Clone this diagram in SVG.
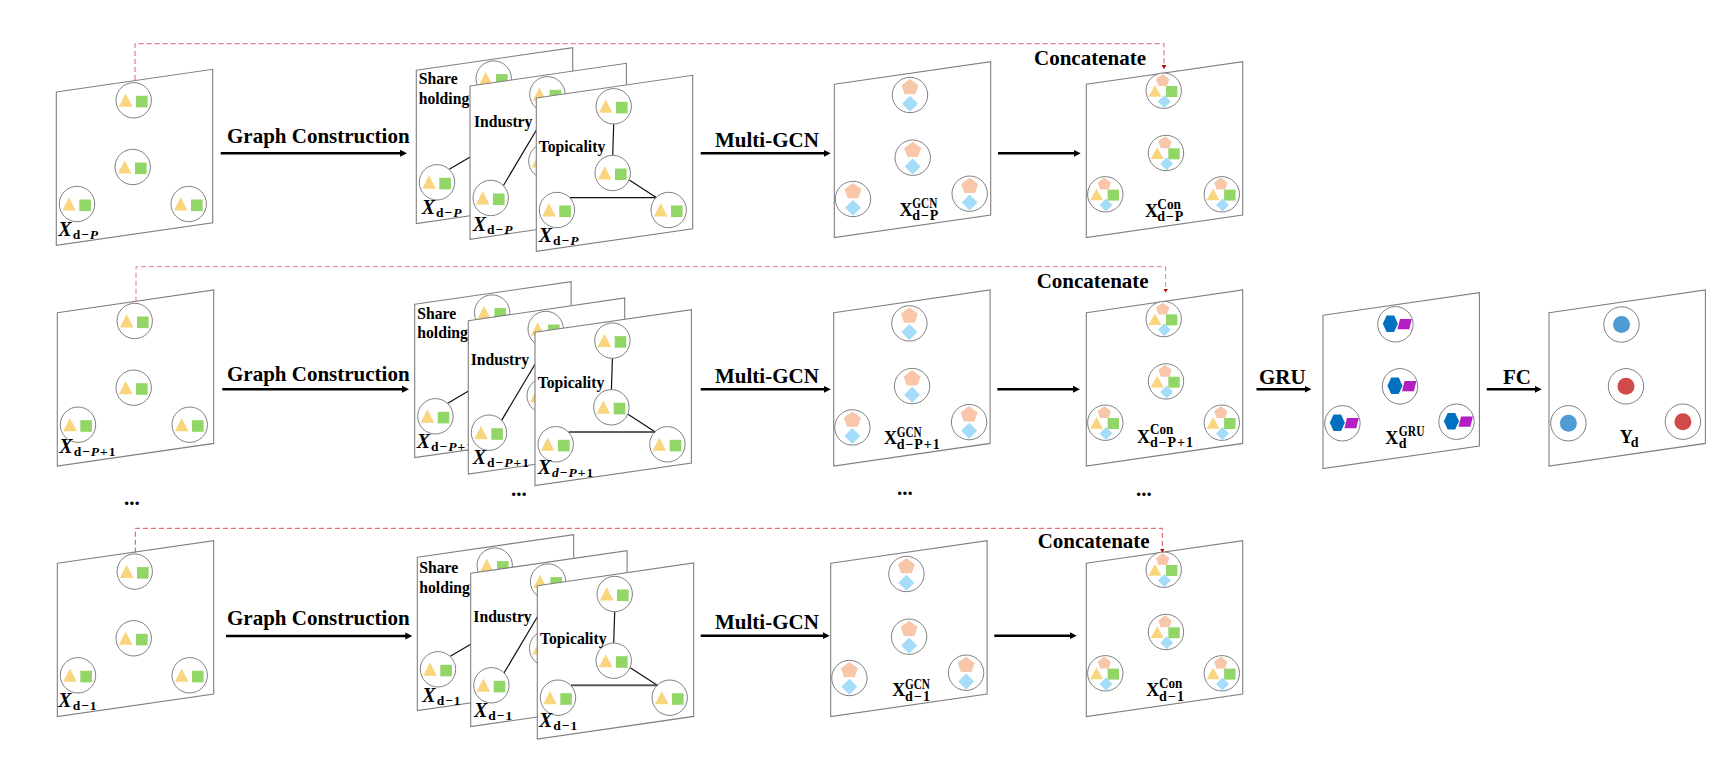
<svg xmlns="http://www.w3.org/2000/svg" width="1735" height="770" viewBox="0 0 1735 770">
<style>
text{font-family:"Liberation Serif",serif;font-weight:bold;fill:#000}
.lb{font-size:21px}
.st{font-size:15.7px}
.x{font-size:20px;font-style:italic}
.s{font-size:13.5px;font-style:normal;letter-spacing:1px}
.i{font-style:italic}
.X{font-size:18px}
.u{font-size:14px}
.dots{font-size:21px}
.pn{fill:#fff;stroke:#7f7f7f;stroke-width:1.1}
.c{fill:#fff;stroke:#7f7f7f;stroke-width:1}
.tri{fill:#f9d57e}.sq{fill:#93d668}.pe{fill:#f8c6a9}.di{fill:#a5dcf9}.he{fill:#0070c0}.pa{fill:#b41fc4}
.bl{fill:#4e9bd5}.re{fill:#d04a4a}
.e{stroke:#111;stroke-width:1.2;fill:none}
.e2{stroke:#555;stroke-width:1.6;fill:none}
.ar{stroke:#000;stroke-width:2.6;fill:none;marker-end:url(#ah)}
.da{stroke-width:1;stroke-dasharray:5 3;fill:none;marker-end:url(#dh)}
.d1{stroke:#d4686c}.d2{stroke:#e27f84}.d3{stroke:#e04a4f}
</style>
<defs>
<marker id="ah" markerUnits="userSpaceOnUse" markerWidth="8" markerHeight="8" refX="1" refY="4" orient="auto"><path d="M0,0.5L7,4L0,7.5z" fill="#000"/></marker>
<marker id="dh" markerUnits="userSpaceOnUse" markerWidth="5" markerHeight="5" refX="0" refY="2.5" orient="auto"><path d="M0,0L4,2.5L0,5z" fill="#c00000"/></marker>
<polygon id="frame" class="pn" points="0,0 156.4,-22.7 156.4,130.7 0,153.3"/>
<g id="ab"><circle class="c" r="17.7"/><polygon class="tri" points="-8,-6.8 -14.8,6.5 -1.2,6.5"/><rect class="sq" x="2.3" y="-4.5" width="11.6" height="11.6"/></g>
<g id="gc"><circle class="c" r="17.7"/><polygon class="pe" points="0,-16 8.5,-9.7 5.3,-0.7 -5.3,-0.7 -8.5,-9.7"/><polygon class="di" points="0,0.7 8,8.7 0,16.7 -8,8.7"/></g>
<g id="cn"><circle class="c" r="17.7"/><polygon class="pe" points="-1,-16.7 5.7,-11.5 3.2,-4.7 -5.2,-4.7 -7.7,-11.5"/><polygon class="tri" points="-8.7,-5.7 -15.3,6 -2.3,6"/><rect class="sq" x="2.3" y="-4.7" width="11.4" height="11"/><polygon class="di" points="0.7,4.2 7.2,10.7 0.7,17.2 -5.8,10.7"/></g>
<g id="gr"><circle class="c" r="17.7"/><polygon class="he" points="-12.6,-0.5 -8.8,-8.7 -1.3,-8.7 2.5,-0.5 -1.3,7.7 -8.8,7.7"/><polygon class="pa" points="4.6,-5.3 16.4,-5.3 13.9,5 2,5"/></g>
<g id="yb"><circle class="c" r="17.7"/><circle class="bl" r="8.5"/></g>
<g id="yr"><circle class="c" r="17.7"/><circle class="re" r="8.5"/></g>
<g id="abNodes"><use href="#ab" x="77.4" y="8.3"/><use href="#ab" x="76.4" y="75"/><use href="#ab" x="20.7" y="112"/><use href="#ab" x="132.4" y="112"/></g>
<g id="abPanel"><use href="#frame"/><use href="#abNodes"/></g>
<g id="gcPanel"><use href="#frame"/><use href="#gc" x="75.7" y="10.7"/><use href="#gc" x="78.4" y="73.4"/><use href="#gc" x="18.7" y="114.7"/><use href="#gc" x="135.4" y="109.4"/></g>
<g id="cnPanel"><use href="#frame"/><use href="#cn" x="77.4" y="6.4"/><use href="#cn" x="79.7" y="68.7"/><use href="#cn" x="19" y="110"/><use href="#cn" x="135.5" y="110"/></g>
<g id="sharePanel"><use href="#frame"/><path class="e" d="M33,99L56,85.5"/><use href="#abNodes"/></g>
<g id="indPanel"><use href="#frame"/><path class="e" d="M33.3,99.7L70,38"/><use href="#abNodes"/></g>
<g id="topPanel"><use href="#frame"/><path class="e" d="M77.4,26L76.4,57.7M93,82L120.3,99.7M33.7,99.7L120.3,99.7"/><use href="#abNodes"/></g>
</defs>

<g id="row1-input"><use href="#abPanel" x="56.3" y="92"/>
<text class="x" x="58.3" y="235.7">X<tspan class="s" dx="1" dy="3">d−<tspan class="i">P</tspan></tspan></text></g>
<g id="row1-shareholding"><use href="#sharePanel" x="416.3" y="70.3"/>
<text class="st" x="418.7" y="84.3">Share</text><text class="st" x="418.7" y="104">holding</text>
<text class="x" x="421.7" y="214.3">X<tspan class="s" dx="1" dy="3">d−<tspan class="i">P</tspan></tspan></text></g>
<g id="row1-industry"><use href="#indPanel" x="470" y="86"/>
<text class="st" x="474" y="126.7">Industry</text>
<text class="x" x="472.7" y="231">X<tspan class="s" dx="1" dy="3">d−<tspan class="i">P</tspan></tspan></text></g>
<g id="row1-topicality"><use href="#topPanel" x="536.3" y="98"/>
<text class="st" x="538.7" y="151.7">Topicality</text>
<text class="x" x="538.7" y="241.7">X<tspan class="s" dx="1" dy="3">d−<tspan class="i">P</tspan></tspan></text></g>
<g id="row1-gcn"><use href="#gcPanel" x="834.3" y="84.3"/>
<text class="X" x="899.5" y="216">X</text><text class="u" x="912.3" y="207.7" textLength="25" lengthAdjust="spacingAndGlyphs">GCN</text><text class="u" x="912.3" y="220" textLength="26" lengthAdjust="spacing">d−P</text></g>
<g id="row1-con"><use href="#cnPanel" x="1086.3" y="84.3"/>
<text class="X" x="1145" y="216.7">X</text><text class="u" x="1157.3" y="209" textLength="23.7" lengthAdjust="spacingAndGlyphs">Con</text><text class="u" x="1157.3" y="220.7" textLength="26" lengthAdjust="spacing">d−P</text></g>

<g id="row2-input"><use href="#abPanel" x="57.3" y="312.7"/>
<text class="x" x="59.3" y="453.3">X<tspan class="s" dx="1" dy="3">d−<tspan class="i">P</tspan>+1</tspan></text></g>
<g id="row2-shareholding"><use href="#sharePanel" x="414.7" y="304.3"/>
<text class="st" x="417.3" y="319">Share</text><text class="st" x="417.3" y="338.3">holding</text>
<text class="x" x="416.7" y="448.3">X<tspan class="s" dx="1" dy="3">d−<tspan class="i">P</tspan>+1</tspan></text></g>
<g id="row2-industry"><use href="#indPanel" x="468.3" y="320.7"/>
<text class="st" x="470.7" y="365">Industry</text>
<text class="x" x="472.7" y="464">X<tspan class="s" dx="1" dy="3">d−<tspan class="i">P</tspan>+1</tspan></text></g>
<g id="row2-topicality"><use href="#topPanel" x="535" y="332.3"/><path class="e2" d="M568.7,432H655.3"/>
<text class="st" x="537.7" y="388.3">Topicality</text>
<text class="x" x="537.7" y="474">X<tspan class="s" dx="1" dy="3"><tspan class="i">d</tspan>−<tspan class="i">P</tspan>+1</tspan></text></g>
<g id="row2-gcn"><use href="#gcPanel" x="833.7" y="312.7"/>
<text class="X" x="884" y="444.3">X</text><text class="u" x="896.7" y="436.7" textLength="25" lengthAdjust="spacingAndGlyphs">GCN</text><text class="u" x="896.7" y="449" textLength="43" lengthAdjust="spacing">d−P+1</text></g>
<g id="row2-con"><use href="#cnPanel" x="1086.3" y="312.7"/>
<text class="X" x="1137" y="442.7">X</text><text class="u" x="1150" y="434" textLength="23.3" lengthAdjust="spacingAndGlyphs">Con</text><text class="u" x="1150" y="446.7" textLength="43" lengthAdjust="spacing">d−P+1</text></g>
<g id="gru-panel"><use href="#frame" x="1323" y="315.3"/>
<use href="#gr" x="1395.4" y="324.3"/><use href="#gr" x="1400" y="386.3"/><use href="#gr" x="1342.4" y="423.3"/><use href="#gr" x="1456.5" y="421.7"/>
<text class="X" x="1385.3" y="444">X</text><text class="u" x="1398.8" y="435.7" textLength="25.7" lengthAdjust="spacingAndGlyphs">GRU</text><text class="u" x="1398.8" y="447.7">d</text></g>
<g id="fc-panel"><use href="#frame" x="1549" y="312.7"/>
<use href="#yb" x="1621.5" y="324.5"/><use href="#yr" x="1626" y="386.3"/><use href="#yb" x="1568.4" y="423.3"/><use href="#yr" x="1682.9" y="421.7"/>
<text class="X" x="1619.8" y="443.3">Y</text><text class="u" x="1630.8" y="446.7">d</text></g>

<g id="row3-input"><use href="#abPanel" x="57.3" y="563.3"/>
<text class="x" x="58.3" y="707.3">X<tspan class="s" dx="1" dy="3">d−1</tspan></text></g>
<g id="row3-shareholding"><use href="#sharePanel" x="417.3" y="557.3"/>
<text class="st" x="419.3" y="573.3">Share</text><text class="st" x="419.3" y="592.7">holding</text>
<text class="x" x="422.3" y="701.7">X<tspan class="s" dx="1" dy="3">d−1</tspan></text></g>
<g id="row3-industry"><use href="#indPanel" x="470.7" y="573.3"/>
<text class="st" x="473.3" y="622.3">Industry</text>
<text class="x" x="474" y="716.7">X<tspan class="s" dx="1" dy="3">d−1</tspan></text></g>
<g id="row3-topicality"><use href="#topPanel" x="537.3" y="585.7"/><path class="e2" d="M571,685.4H657.6"/>
<text class="st" x="540" y="644">Topicality</text>
<text class="x" x="539" y="727.3">X<tspan class="s" dx="1" dy="3">d−1</tspan></text></g>
<g id="row3-gcn"><use href="#gcPanel" x="830.7" y="563.3"/>
<text class="X" x="892.2" y="695.7">X</text><text class="u" x="905" y="689" textLength="25" lengthAdjust="spacingAndGlyphs">GCN</text><text class="u" x="905" y="700.7" textLength="25" lengthAdjust="spacing">d−1</text></g>
<g id="row3-con"><use href="#cnPanel" x="1086.3" y="563.3"/>
<text class="X" x="1146.2" y="696">X</text><text class="u" x="1159" y="688.3" textLength="23.3" lengthAdjust="spacingAndGlyphs">Con</text><text class="u" x="1159" y="700.7" textLength="25" lengthAdjust="spacing">d−1</text></g>

<g id="connectors">
<path class="da d1" d="M135,80V43.7H1164V65"/>
<path class="da d2" d="M136,301.7V266.7H1165.7V288.5"/>
<path class="da d3" d="M135.3,552.7V528.3H1162.3V548.5"/>
<path class="ar" d="M220.7,153.3H401"/><path class="ar" d="M700.7,153.3H824.7"/><path class="ar" d="M998,153.3H1074.7"/>
<path class="ar" d="M222.3,389.3H403"/><path class="ar" d="M700.7,389.3H824.7"/><path class="ar" d="M997.3,389.3H1074"/>
<path class="ar" d="M1256.5,389.3H1305.5"/><path class="ar" d="M1486.8,389.3H1535.8"/>
<path class="ar" d="M226,636H406.3"/><path class="ar" d="M700.7,635.7H823.7"/><path class="ar" d="M994.3,635.7H1070.7"/>
</g>
<g id="labels">
<text class="lb" x="227" y="143.3">Graph Construction</text>
<text class="lb" x="715" y="146.7">Multi-GCN</text>
<text class="lb" x="1034" y="65">Concatenate</text>
<text class="lb" x="227" y="380.7">Graph Construction</text>
<text class="lb" x="715" y="382.7">Multi-GCN</text>
<text class="lb" x="1036.7" y="287.7">Concatenate</text>
<text class="lb" x="1259" y="383.7">GRU</text>
<text class="lb" x="1503" y="383.7">FC</text>
<text class="lb" x="227" y="625">Graph Construction</text>
<text class="lb" x="715" y="629">Multi-GCN</text>
<text class="lb" x="1037.7" y="547.7">Concatenate</text>
<text class="dots" x="124" y="505">...</text>
<text class="dots" x="511" y="496">...</text>
<text class="dots" x="897" y="494.5">...</text>
<text class="dots" x="1136" y="495.5">...</text>
</g>
</svg>
